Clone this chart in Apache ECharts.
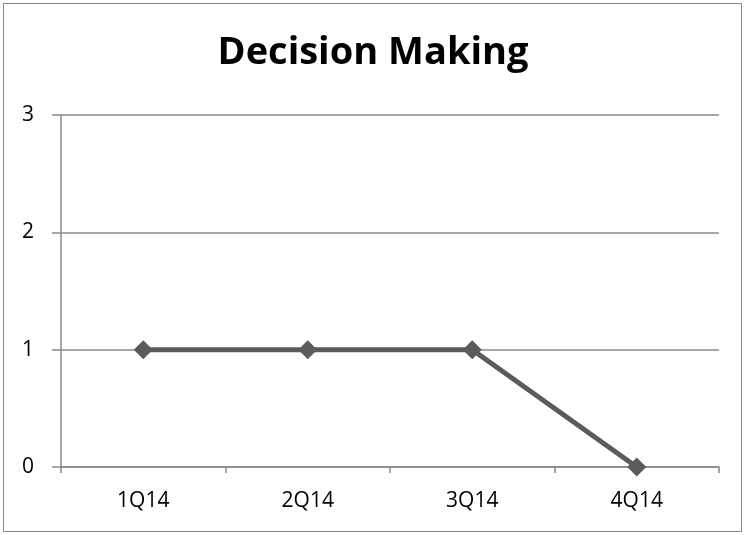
<!DOCTYPE html>
<html><head><meta charset="utf-8">
<script src="https://cdn.jsdelivr.net/npm/echarts@6/dist/echarts.min.js"></script>
<style>html,body{margin:0;padding:0;background:#fff}#c{width:746px;height:535px}
#frame{position:absolute;left:3px;top:3px;width:739px;height:529px;border:1.5px solid #888;box-sizing:border-box;pointer-events:none}</style>
</head><body><div id="c"></div><div id="frame"></div>
<script>
const categories = ['1Q14', '2Q14', '3Q14', '4Q14'];
const values = [1, 1, 1, 0];
const chart = echarts.init(document.getElementById('c'));
chart.setOption({
  animation: false,
  title: { text: 'Decision Making', left: 'center', top: 29,
    textStyle: { fontFamily: 'Open Sans', fontWeight: 'bold', fontSize: 38, color: '#000' } },
  grid: { left: 61, right: 27, top: 115, bottom: 68 },
  xAxis: { type: 'category', data: categories, boundaryGap: true,
    axisLine: { lineStyle: { color: '#888', width: 1.5 } },
    axisTick: { show: true, length: 6, lineStyle: { color: '#888', width: 1.5 } },
    axisLabel: { color: '#000', fontSize: 21, fontFamily: 'Open Sans', margin: 24 } },
  yAxis: { type: 'value', min: 0, max: 3, interval: 1,
    axisLine: { show: true, lineStyle: { color: '#888', width: 1.5 } },
    axisTick: { show: true, length: 9, lineStyle: { color: '#888', width: 1.5 } },
    splitLine: { lineStyle: { color: '#888', width: 1.5 } },
    axisLabel: { color: '#000', fontSize: 21, fontFamily: 'Open Sans', margin: 27 } },
  series: [{ type: 'line', data: values, symbol: 'diamond', symbolSize: 19,
    lineStyle: { color: '#5b5b5b', width: 5 }, itemStyle: { color: '#5b5b5b' } }]
});
</script></body></html>
